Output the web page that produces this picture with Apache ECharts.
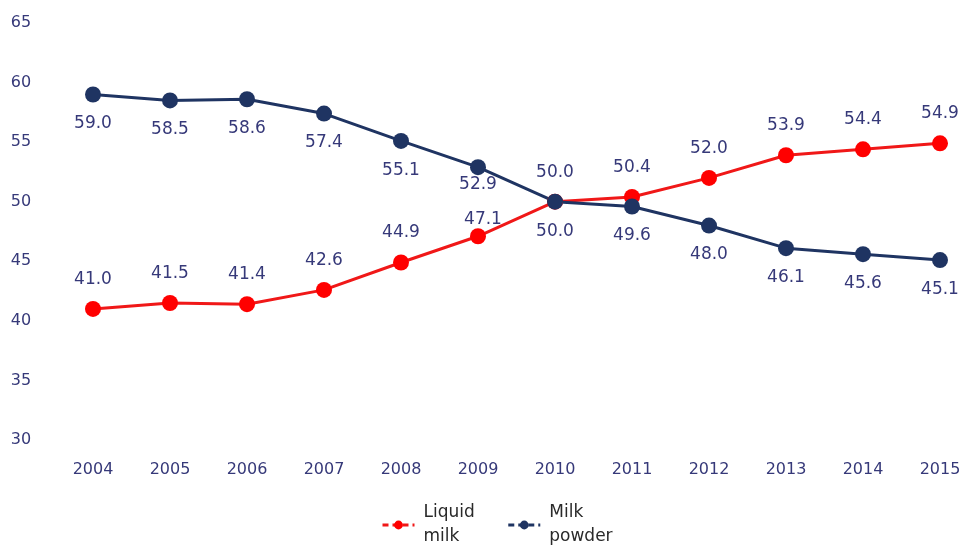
<!DOCTYPE html>
<html>
<head>
<meta charset="utf-8">
<script src="https://cdn.jsdelivr.net/npm/echarts@6/dist/echarts.min.js"></script>
<style>
  html, body { margin: 0; padding: 0; background: #fff; }
  #chart { width: 968px; height: 556px; }
</style>
</head>
<body>
<div id="chart"></div>
<script>
// Share of dairy consumption, 2004–2015
const years = ['2004','2005','2006','2007','2008','2009','2010','2011','2012','2013','2014','2015'];
const liquidMilk = [41.0, 41.5, 41.4, 42.6, 44.9, 47.1, 50.0, 50.4, 52.0, 53.9, 54.4, 54.9];
const milkPowder = [59.0, 58.5, 58.6, 57.4, 55.1, 52.9, 50.0, 49.6, 48.0, 46.1, 45.6, 45.1];
const legendNames = { 'Liquid milk': 'Liquid\nmilk', 'Milk powder': 'Milk\npowder' };

const textColor = '#363979';
const fontFamily = '"DejaVu Sans", "Open Sans", sans-serif';

// Where the two lines come close (2009) the value labels sit tighter to their markers.
const crowdedIndex = 5;
function withLabelTweak(values, tweak) {
  return values.map((v, i) => i === crowdedIndex ? { value: v, label: tweak } : v);
}

const chart = echarts.init(document.getElementById('chart'));
chart.setOption({
  backgroundColor: '#ffffff',
  animation: false,
  textStyle: { fontFamily: fontFamily },
  grid: { left: 93, right: 28, top: 23, bottom: 116 },
  legend: {
    bottom: 2,
    left: 376,
    itemWidth: 32,
    itemHeight: 11,
    itemGap: 32,
    data: ['Liquid milk', 'Milk powder'],
    formatter: name => legendNames[name],
    lineStyle: { type: [6, 4], width: 3 },
    textStyle: { color: '#2a2a2a', fontSize: 17, lineHeight: 24, fontFamily: fontFamily, padding: [0, 0, 0, 4] }
  },
  xAxis: {
    type: 'category',
    data: years,
    boundaryGap: false,
    axisLine: { show: false },
    axisTick: { show: false },
    axisLabel: { color: textColor, fontSize: 16, margin: 22 }
  },
  yAxis: {
    type: 'value',
    min: 30,
    max: 65,
    interval: 5,
    splitLine: { show: false },
    axisLine: { show: false },
    axisTick: { show: false },
    axisLabel: { color: textColor, fontSize: 16, margin: 72, align: 'center' }
  },
  series: [
    {
      name: 'Liquid milk',
      type: 'line',
      data: withLabelTweak(liquidMilk, { distance: 0, offset: [5, 0] }),
      symbol: 'circle',
      symbolSize: 16,
      itemStyle: { color: '#ff0000' },
      lineStyle: { color: '#f01818', width: 3 },
      label: {
        show: true,
        position: 'top',
        distance: 13,
        color: textColor,
        fontSize: 17,
        formatter: p => p.value.toFixed(1)
      }
    },
    {
      name: 'Milk powder',
      type: 'line',
      data: withLabelTweak(milkPowder, { distance: 1 }),
      symbol: 'circle',
      symbolSize: 16,
      itemStyle: { color: '#1f3462' },
      lineStyle: { color: '#1f3462', width: 3 },
      label: {
        show: true,
        position: 'bottom',
        distance: 13,
        color: textColor,
        fontSize: 17,
        formatter: p => p.value.toFixed(1)
      }
    }
  ]
});
</script>
</body>
</html>
